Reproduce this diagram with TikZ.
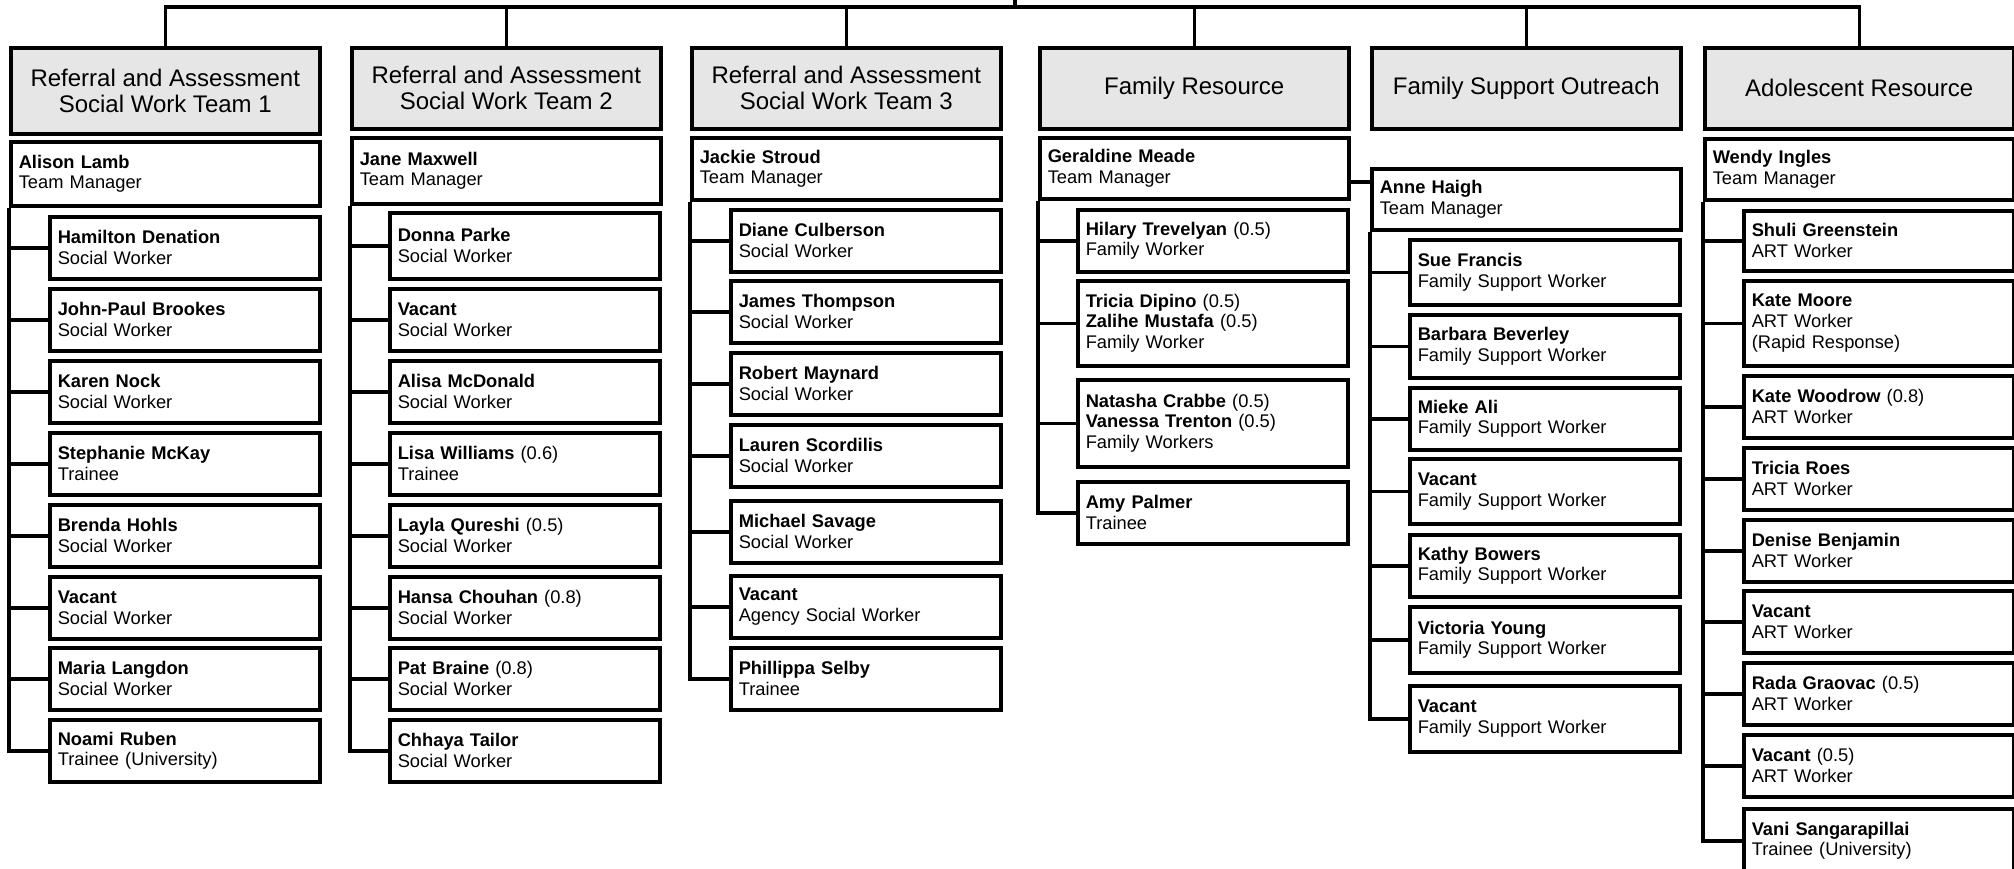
\documentclass[tikz,border=0pt]{standalone}
\usepackage{fontspec}
\setmainfont{Liberation Sans}
\definecolor{unitgray}{RGB}{230,230,230}
\newcommand\unitfont{\fontsize{24}{25.7}\selectfont}
\newcommand\stafffont{\fontsize{18.3}{20.7}\selectfont}
\tikzset{
  unit/.style={draw, line width=3.5pt, fill=unitgray, anchor=north west, minimum width=309pt, minimum height=81pt, inner sep=0pt, align=center, font=\unitfont},
  lead/.style={draw, line width=3.5pt, fill=white, anchor=north west, text width=293pt, minimum height=62pt, inner xsep=8pt, inner ysep=0pt, align=left, font=\stafffont},
  post/.style={lead, text width=254pt},
  link/.style={line width=3.5pt},
}
\begin{document}
\begin{tikzpicture}[x=1pt, y=-1pt]
	\useasboundingbox (0,0) rectangle (2014,868);

	% units
	\node[unit, minimum height=86pt] (ra1) at (9,46) {Referral and Assessment\\Social Work Team 1};
	\node[unit] (ra2) at (350,46) {Referral and Assessment\\Social Work Team 2};
	\node[unit] (ra3) at (690,46) {Referral and Assessment\\Social Work Team 3};
	\node[unit] (fr) at (1038,46) {Family Resource};
	\node[unit] (fso) at (1370,46) {Family Support Outreach};
	\node[unit] (art) at (1703,46) {Adolescent Resource};

	\coordinate (top) at (1015,0);
	\coordinate (bar) at (1015,7);
	\draw[link] (top) -- (bar);
	\draw[link] (ra1.north) |- (bar) -| (art.north);
	\draw[link] (ra2.north) -- (ra2.north |- bar);
	\draw[link] (ra3.north) -- (ra3.north |- bar);
	\draw[link] (fr.north) -- (fr.north |- bar);
	\draw[link] (fso.north) -- (fso.north |- bar);

	% referral and assessment 1
	\node[lead, minimum height=64pt] (ra1m) at (9,140) {\textbf{Alison Lamb}\\Team Manager};
	\node[post] (ra1w1) at (48,215) {\textbf{Hamilton Denation}\\Social Worker};
	\node[post] (ra1w2) at (48,287) {\textbf{John-Paul Brookes}\\Social Worker};
	\node[post] (ra1w3) at (48,359) {\textbf{Karen Nock}\\Social Worker};
	\node[post] (ra1w4) at (48,431) {\textbf{Stephanie McKay}\\Trainee};
	\node[post] (ra1w5) at (48,503) {\textbf{Brenda Hohls}\\Social Worker};
	\node[post] (ra1w6) at (48,575) {\textbf{Vacant}\\Social Worker};
	\node[post] (ra1w7) at (48,646) {\textbf{Maria Langdon}\\Social Worker};
	\node[post] (ra1w8) at (48,718) {\textbf{Noami Ruben}\\Trainee (University)};
	\draw[link] (ra1m.south west) |- (ra1w1.west) (ra1m.south west) |- (ra1w2.west)
		(ra1m.south west) |- (ra1w3.west) (ra1m.south west) |- (ra1w4.west)
		(ra1m.south west) |- (ra1w5.west) (ra1m.south west) |- (ra1w6.west)
		(ra1m.south west) |- (ra1w7.west) (ra1m.south west) |- (ra1w8.west);

	% referral and assessment 2
	\node[lead, minimum height=66pt] (ra2m) at (350,136) {\textbf{Jane Maxwell}\\Team Manager};
	\node[post, minimum height=66pt] (ra2w1) at (388,211) {\textbf{Donna Parke}\\Social Worker};
	\node[post] (ra2w2) at (388,287) {\textbf{Vacant}\\Social Worker};
	\node[post] (ra2w3) at (388,359) {\textbf{Alisa McDonald}\\Social Worker};
	\node[post] (ra2w4) at (388,431) {\textbf{Lisa Williams} (0.6)\\Trainee};
	\node[post] (ra2w5) at (388,503) {\textbf{Layla Qureshi} (0.5)\\Social Worker};
	\node[post] (ra2w6) at (388,575) {\textbf{Hansa Chouhan} (0.8)\\Social Worker};
	\node[post] (ra2w7) at (388,646) {\textbf{Pat Braine} (0.8)\\Social Worker};
	\node[post] (ra2w8) at (388,718) {\textbf{Chhaya Tailor}\\Social Worker};
	\draw[link] (ra2m.south west) |- (ra2w1.west) (ra2m.south west) |- (ra2w2.west)
		(ra2m.south west) |- (ra2w3.west) (ra2m.south west) |- (ra2w4.west)
		(ra2m.south west) |- (ra2w5.west) (ra2m.south west) |- (ra2w6.west)
		(ra2m.south west) |- (ra2w7.west) (ra2m.south west) |- (ra2w8.west);

	% referral and assessment 3
	\node[lead] (ra3m) at (690,136) {\textbf{Jackie Stroud}\\Team Manager};
	\node[post] (ra3w1) at (729,208) {\textbf{Diane Culberson}\\Social Worker};
	\node[post] (ra3w2) at (729,279) {\textbf{James Thompson}\\Social Worker};
	\node[post] (ra3w3) at (729,351) {\textbf{Robert Maynard}\\Social Worker};
	\node[post] (ra3w4) at (729,423) {\textbf{Lauren Scordilis}\\Social Worker};
	\node[post] (ra3w5) at (729,499) {\textbf{Michael Savage}\\Social Worker};
	\node[post] (ra3w6) at (729,574) {\textbf{Vacant}\\Agency Social Worker};
	\node[post] (ra3w7) at (729,646) {\textbf{Phillippa Selby}\\Trainee};
	\draw[link] (ra3m.south west) |- (ra3w1.west) (ra3m.south west) |- (ra3w2.west)
		(ra3m.south west) |- (ra3w3.west) (ra3m.south west) |- (ra3w4.west)
		(ra3m.south west) |- (ra3w5.west) (ra3m.south west) |- (ra3w6.west)
		(ra3m.south west) |- (ra3w7.west);

	% family resource
	\node[lead, minimum height=61pt] (frm) at (1038,136) {\textbf{Geraldine Meade}\\Team Manager};
	\node[post] (frw1) at (1076,208) {\textbf{Hilary Trevelyan} (0.5)\\Family Worker};
	\node[post, minimum height=85pt] (frw2) at (1076,279) {\textbf{Tricia Dipino} (0.5)\\\textbf{Zalihe Mustafa} (0.5)\\Family Worker};
	\node[post, minimum height=87pt] (frw3) at (1076,378) {\textbf{Natasha Crabbe} (0.5)\\\textbf{Vanessa Trenton} (0.5)\\Family Workers};
	\node[post] (frw4) at (1076,480) {\textbf{Amy Palmer}\\Trainee};
	\draw[link] (frm.south west) |- (frw1.west) (frm.south west) |- (frw2.west)
		(frm.south west) |- (frw3.west) (frm.south west) |- (frw4.west);

	% family support outreach
	\node[lead, minimum height=61pt] (fsom) at (1370,167) {\textbf{Anne Haigh}\\Team Manager};
	\draw[link] ([yshift=-13.5pt]frm.east) -- ([yshift=-13.5pt]frm.east -| fsom.west);
	\node[post, minimum height=65pt] (fsow1) at (1408,238) {\textbf{Sue Francis}\\Family Support Worker};
	\node[post, minimum height=63pt] (fsow2) at (1408,313) {\textbf{Barbara Beverley}\\Family Support Worker};
	\node[post] (fsow3) at (1408,386) {\textbf{Mieke Ali}\\Family Support Worker};
	\node[post, minimum height=65pt] (fsow4) at (1408,457) {\textbf{Vacant}\\Family Support Worker};
	\node[post] (fsow5) at (1408,533) {\textbf{Kathy Bowers}\\Family Support Worker};
	\node[post, minimum height=66pt] (fsow6) at (1408,605) {\textbf{Victoria Young}\\Family Support Worker};
	\node[post, minimum height=66pt] (fsow7) at (1408,684) {\textbf{Vacant}\\Family Support Worker};
	\draw[link] (fsom.south west) |- (fsow1.west) (fsom.south west) |- (fsow2.west)
		(fsom.south west) |- (fsow3.west) (fsom.south west) |- (fsow4.west)
		(fsom.south west) |- (fsow5.west) (fsom.south west) |- (fsow6.west)
		(fsom.south west) |- (fsow7.west);

	% adolescent resource
	\node[lead, minimum height=61pt] (artm) at (1703,137) {\textbf{Wendy Ingles}\\Team Manager};
	\node[post, minimum height=60pt] (artw1) at (1742,209) {\textbf{Shuli Greenstein}\\ART Worker};
	\node[post, minimum height=85pt] (artw2) at (1742,279) {\textbf{Kate Moore}\\ART Worker\\(Rapid Response)};
	\node[post] (artw3) at (1742,374) {\textbf{Kate Woodrow} (0.8)\\ART Worker};
	\node[post] (artw4) at (1742,446) {\textbf{Tricia Roes}\\ART Worker};
	\node[post] (artw5) at (1742,518) {\textbf{Denise Benjamin}\\ART Worker};
	\node[post] (artw6) at (1742,589) {\textbf{Vacant}\\ART Worker};
	\node[post] (artw7) at (1742,661) {\textbf{Rada Graovac} (0.5)\\ART Worker};
	\node[post] (artw8) at (1742,733) {\textbf{Vacant} (0.5)\\ART Worker};
	\node[post, minimum height=64pt] (artw9) at (1742,807) {\textbf{Vani Sangarapillai}\\Trainee (University)};
	\draw[link] (artm.south west) |- (artw1.west) (artm.south west) |- (artw2.west)
		(artm.south west) |- (artw3.west) (artm.south west) |- (artw4.west)
		(artm.south west) |- (artw5.west) (artm.south west) |- (artw6.west)
		(artm.south west) |- (artw7.west) (artm.south west) |- (artw8.west)
		(artm.south west) |- (artw9.west);
\end{tikzpicture}
\end{document}
